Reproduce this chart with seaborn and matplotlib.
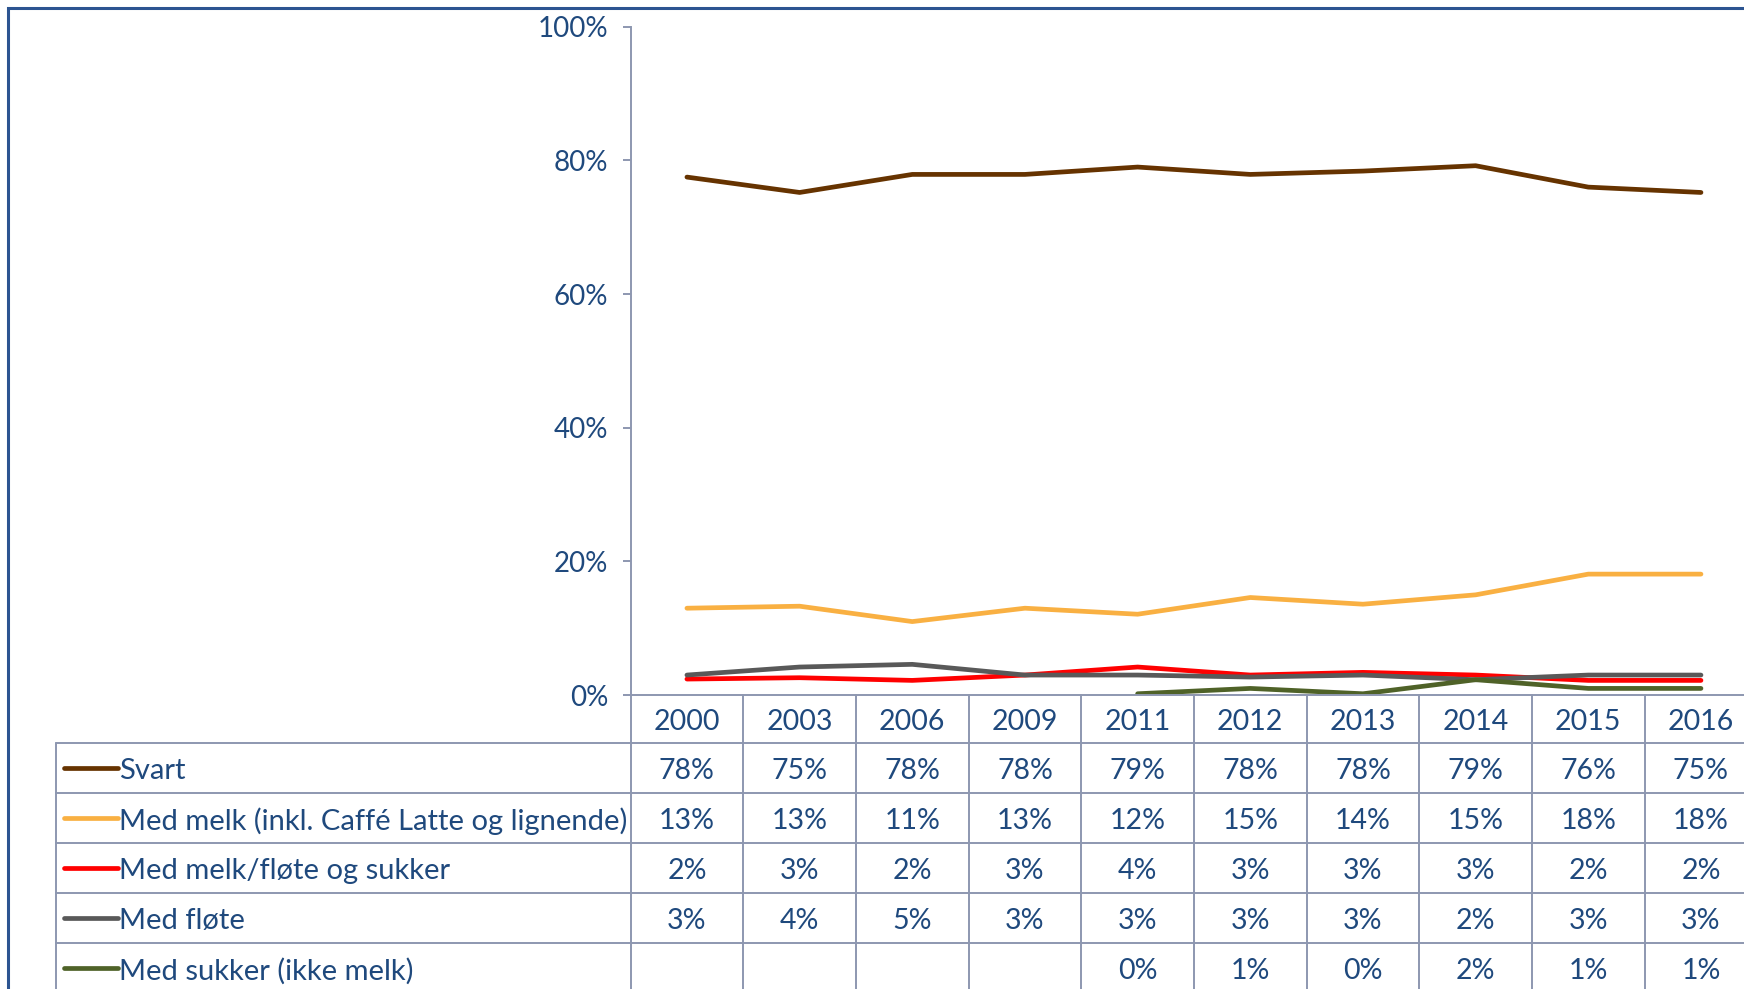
import pandas as pd
import matplotlib.pyplot as plt
import seaborn as sns
from matplotlib.patches import Rectangle
from matplotlib.lines import Line2D
from matplotlib.transforms import blended_transform_factory

# chart data (percent)
years = ['2000', '2003', '2006', '2009', '2011', '2012', '2013', '2014', '2015', '2016']
series_names = ['Svart',
                'Med melk (inkl. Caffé Latte og lignende)',
                'Med melk/fløte og sukker',
                'Med fløte',
                'Med sukker (ikke melk)']
svart = [77.5, 75.2, 77.9, 77.9, 79.0, 77.9, 78.4, 79.2, 76.0, 75.2]
med_melk = [13.0, 13.3, 11.0, 13.0, 12.1, 14.6, 13.6, 15.0, 18.1, 18.1]
melk_sukker = [2.4, 2.6, 2.2, 3.0, 4.2, 3.0, 3.4, 3.0, 2.2, 2.2]
med_flote = [3.0, 4.2, 4.6, 3.0, 3.0, 2.7, 3.0, 2.3, 3.0, 3.0]
med_sukker = [None, None, None, None, 0.2, 1.0, 0.2, 2.3, 1.0, 1.0]
colors = ['#663300', '#F9B042', '#FF0000', '#595959', '#4F6228']
yticks = [0, 20, 40, 60, 80, 100]

TEXT = '#1F497D'
GRID = '#8D97B0'
FRAME = '#2C5491'
FS = 20.5

sns.set_style('white')
plt.rcParams['font.family'] = ['Lato', 'DejaVu Sans']

all_series = [svart, med_melk, melk_sukker, med_flote, med_sukker]
rows = []
for name, vals in zip(series_names, all_series):
    for yr, v in zip(years, vals):
        if v is not None:
            rows.append({'year': yr, 'serie': name, 'andel': v})
df = pd.DataFrame(rows)

W, H = 1744, 989
fig = plt.figure(figsize=(W / 100, H / 100), dpi=100)
ax_left, ax_right = 630.6, 1757.3
ax_top, ax_bot = 26.7, 695.1
ax = fig.add_axes([ax_left / W, 1 - ax_bot / H, (ax_right - ax_left) / W, (ax_bot - ax_top) / H])
ax_w = ax_right - ax_left
ax_h = ax_bot - ax_top

sns.lineplot(data=df, x='year', y='andel', hue='serie', hue_order=series_names,
             palette=dict(zip(series_names, colors)), linewidth=3.4, sort=False,
             legend=False, ax=ax)

ax.set_xlim(-0.5, len(years) - 0.5)
ax.set_ylim(0, 100)
ax.set_xticks([])
ax.set_yticks(yticks)
ax.set_yticklabels([f'{t}%' for t in yticks])
ax.tick_params(axis='y', direction='out', length=6, width=1.4, color=GRID,
               pad=10, labelsize=20, labelcolor=TEXT, left=True)
ax.set_xlabel('')
ax.set_ylabel('')
for s in ['top', 'right']:
    ax.spines[s].set_visible(False)
for s in ['left', 'bottom']:
    ax.spines[s].set_color(GRID)
    ax.spines[s].set_linewidth(1.4)

# data table below the axis
def ay(px):
    return -px / ax_h

def axx(px):
    return (px - ax_left) / ax_w

blend = blended_transform_factory(ax.transData, ax.transAxes)
header_h = 47.8
row_h = 50.0
n_rows = len(series_names)
bottom = ay(header_h + row_h * (n_rows + 1))
shift = 3  # text sits a little low in each cell

for i in range(len(years) + 1):
    ax.add_line(Line2D([i - 0.5, i - 0.5], [0, bottom], transform=blend,
                       color=GRID, lw=1.4, clip_on=False))
label_left = axx(55.6)
ax.add_line(Line2D([label_left, label_left], [ay(header_h), bottom], transform=ax.transAxes,
                   color=GRID, lw=1.4, clip_on=False))
for r in range(n_rows + 1):
    yy = ay(header_h + row_h * r)
    ax.add_line(Line2D([label_left, 1.2], [yy, yy], transform=ax.transAxes,
                       color=GRID, lw=1.4, clip_on=False))

for i, yr in enumerate(years):
    ax.text(i, ay(header_h / 2 + shift), yr, transform=blend, ha='center', va='center',
            fontsize=FS, color=TEXT, clip_on=False)

for r, (name, vals, col) in enumerate(zip(series_names, all_series, colors)):
    yc = ay(header_h + row_h * r + row_h / 2)
    yt = ay(header_h + row_h * r + row_h / 2 + shift)
    ax.add_line(Line2D([axx(64), axx(118)], [yc, yc], transform=ax.transAxes,
                       color=col, lw=3.4, solid_capstyle='round', clip_on=False))
    ax.text(axx(119), yt, name, transform=ax.transAxes, ha='left', va='center',
            fontsize=21, color=TEXT, clip_on=False)
    for i, v in enumerate(vals):
        if v is None:
            continue
        ax.text(i, yt, f'{v:.0f}%', transform=blend, ha='center', va='center',
                fontsize=FS, color=TEXT, clip_on=False)

# outer chart frame (runs off the right and bottom edges)
fig.add_artist(Rectangle((8 / W, -0.1), 1.2, 1 - 8 / H + 0.1, transform=fig.transFigure,
                         fill=False, edgecolor=FRAME, lw=2.2))

fig.savefig('out.png', dpi=100)
